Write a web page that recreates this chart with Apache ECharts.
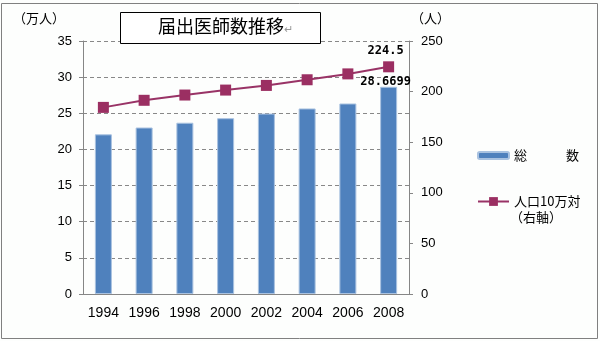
<!DOCTYPE html>
<html>
<head>
<meta charset="utf-8">
<script src="https://cdn.jsdelivr.net/npm/echarts@6/dist/echarts.min.js"></script>
<style>
html,body{margin:0;padding:0;background:#fff;}
#c{width:600px;height:341px;}
</style>
</head>
<body>
<div id="c"></div>
<script>
var years = ['1994','1996','1998','2000','2002','2004','2006','2008'];
var doctors = [22.0853, 23.0297, 23.6933, 24.3201, 24.9574, 25.6668, 26.354, 28.6699];
var per100k = [184.4, 191.4, 196.6, 201.5, 206.1, 211.7, 217.5, 224.5];
var leftTicks = [0, 35, 5];
var rightTicks = [0, 250, 50];
var barName = '総　　　数';
var lineName = '人口10万対';

var FONT = '"Liberation Sans", "Noto Sans CJK JP", sans-serif';
var JFONT = '"Noto Sans CJK JP", sans-serif';
var MONO = '"DejaVu Sans Mono", "Liberation Mono", monospace';
var lastIdx = years.length - 1;

var chart = echarts.init(document.getElementById('c'));
chart.setOption({
  animation: false,
  backgroundColor: '#fdfefd',
  textStyle: { fontFamily: FONT },
  grid: { left: 83, right: 191, top: 41, bottom: 47 },
  legend: [
    {
      data: [barName], left: 477, top: 149, orient: 'vertical', padding: 0,
      itemWidth: 31, itemHeight: 7, itemGap: 0,
      textStyle: { fontFamily: JFONT, fontSize: 13, color: '#000' }
    },
    {
      data: [lineName], left: 477, top: 195, orient: 'vertical', padding: 0,
      itemWidth: 31, itemHeight: 11, itemGap: 0,
      textStyle: { fontFamily: JFONT, fontSize: 13, color: '#000' }
    }
  ],
  xAxis: {
    type: 'category', data: years,
    axisLine: { lineStyle: { color: '#868686' } },
    axisTick: { length: 5, lineStyle: { color: '#868686' } },
    axisLabel: { color: '#000', fontSize: 14, margin: 12, fontFamily: FONT }
  },
  yAxis: [
    {
      type: 'value', min: leftTicks[0], max: leftTicks[1], interval: leftTicks[2],
      axisLine: { show: true, lineStyle: { color: '#868686' } },
      axisTick: { show: true, length: 4, lineStyle: { color: '#868686' } },
      axisLabel: { color: '#000', fontSize: 13, margin: 11, fontFamily: FONT },
      splitLine: { lineStyle: { color: '#888', type: [4, 3] } }
    },
    {
      type: 'value', min: rightTicks[0], max: rightTicks[1], interval: rightTicks[2],
      axisLine: { show: true, lineStyle: { color: '#868686' } },
      axisTick: { show: true, length: 4, lineStyle: { color: '#868686' } },
      axisLabel: { color: '#000', fontSize: 13, margin: 12, fontFamily: FONT },
      splitLine: { show: false }
    }
  ],
  series: [
    {
      name: barName, type: 'bar', yAxisIndex: 0, barWidth: 17,
      itemStyle: { color: '#4F81BD', borderColor: '#A9C2E0', borderWidth: 1 },
      data: doctors.map(function (v, i) {
        return i === lastIdx ? { value: v, label: { show: true } } : v;
      }),
      label: {
        show: false, position: 'top', distance: 0, offset: [-3, 1],
        fontFamily: MONO, fontWeight: 'bold', fontSize: 12, color: '#000',
        formatter: function (p) { return String(p.value); }
      }
    },
    {
      name: lineName, type: 'line', yAxisIndex: 1,
      symbol: 'rect', symbolSize: 11,
      lineStyle: { color: '#993366', width: 2 },
      itemStyle: { color: '#9B2F62' },
      data: per100k.map(function (v, i) {
        return i === lastIdx ? { value: v, label: { show: true } } : v;
      }),
      label: {
        show: false, position: 'top', distance: 4, offset: [-3, 0],
        fontFamily: MONO, fontWeight: 'bold', fontSize: 12, color: '#000',
        formatter: function (p) { return p.value.toFixed(1); }
      }
    }
  ],
  graphic: [
    { type: 'rect', shape: { x: 1.5, y: 3.5, width: 596, height: 335 }, style: { fill: 'none', stroke: '#808080', lineWidth: 1 }, silent: true },
    { type: 'rect', shape: { x: 120.5, y: 12.5, width: 200, height: 31 }, style: { fill: '#fff', stroke: '#000', lineWidth: 1 }, z: 10 },
    {
      type: 'text', left: 158, top: 17, z: 11,
      style: {
        text: '{a|届出医師数推移}{b|↵}',
        rich: {
          a: { fontFamily: JFONT, fontSize: 18, fill: '#000' },
          b: { fontFamily: JFONT, fontSize: 11, fill: '#999', padding: [6, 0, 0, 0] }
        }
      }
    },
    { type: 'text', left: 13, top: 12, style: { text: '（万人）', font: '13px "Noto Sans CJK JP"', fill: '#000' } },
    { type: 'text', left: 411, top: 12, style: { text: '（人）', font: '13px "Noto Sans CJK JP"', fill: '#000' } },
    { type: 'text', left: 510, top: 211, style: { text: '（右軸）', font: '13px "Noto Sans CJK JP"', fill: '#000' } }
  ]
});
</script>
</body>
</html>
